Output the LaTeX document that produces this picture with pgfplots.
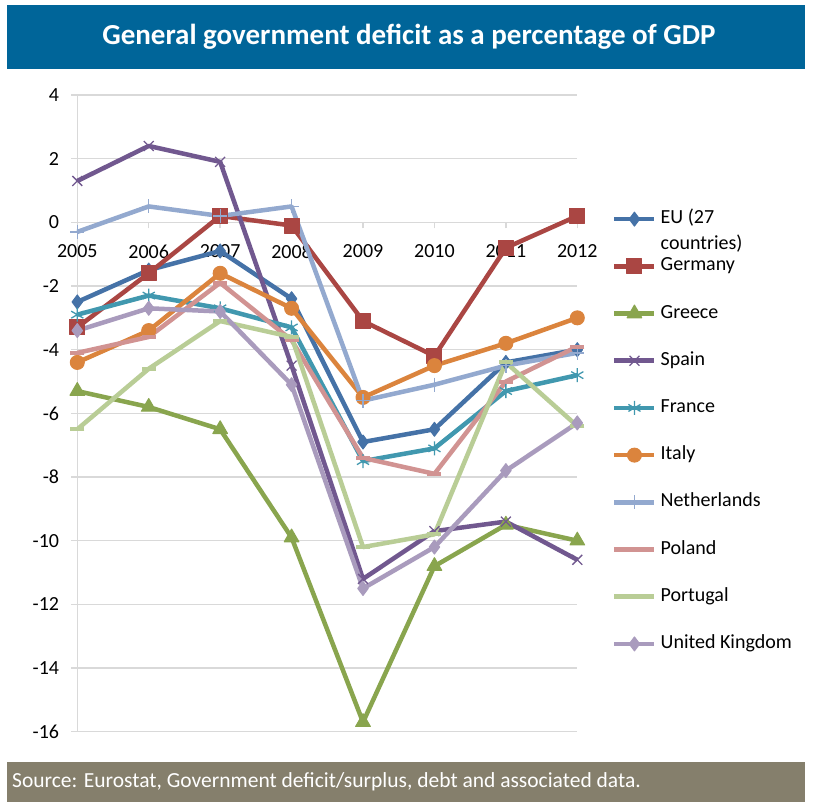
\documentclass[border=0pt]{standalone}
\usepackage{fontspec}
\setmainfont{Carlito}
\usepackage{pgfplots}
\pgfplotsset{compat=1.18}
\definecolor{cEU}{HTML}{4572A7}
\definecolor{cDE}{HTML}{AA4643}
\definecolor{cGR}{HTML}{89A54E}
\definecolor{cES}{HTML}{71588F}
\definecolor{cFR}{HTML}{4198AF}
\definecolor{cIT}{HTML}{DB843D}
\definecolor{cNL}{HTML}{93A9CF}
\definecolor{cPL}{HTML}{D19392}
\definecolor{cPT}{HTML}{B9CD96}
\definecolor{cUK}{HTML}{A99BBD}
\definecolor{titleblue}{RGB}{0,101,153}
\definecolor{footgray}{RGB}{133,127,108}
\definecolor{gridgray}{HTML}{D9D9D9}
\begin{document}
\begin{tikzpicture}
\useasboundingbox (0,0) rectangle (813pt,-808pt);
\fill[white] (0,0) rectangle (813pt,-808pt);
\fill[titleblue] (7pt,-5pt) rectangle (805pt,-69pt);
\node[text=white,font=\fontsize{29}{33}\selectfont\bfseries] at (409pt,-37pt) {General government deficit as a percentage of GDP};
\fill[footgray] (7pt,-762pt) rectangle (805pt,-802pt);
\node[text=white,anchor=west,inner sep=0pt,font=\fontsize{21.5}{25}\selectfont] at (12pt,-782pt) {Source: Eurostat, Government deficit/surplus, debt and associated data.};
\begin{axis}[
  at={(77.3pt,-731.7pt)}, anchor=south west,
  scale only axis, width=500pt, height=636.7pt,
  xmin=2005, xmax=2012, ymin=-16, ymax=4,
  axis x line=middle, axis y line=left,
  axis line style={-, draw=gridgray, line width=1.5pt},
  hide obscured x ticks=false, hide obscured y ticks=false,
  xtick={2005,2006,2007,2008,2009,2010,2011,2012},
  xticklabels={2005,2006,2007,2008,2009,2010,2011,2012},
  ytick={-16,-14,-12,-10,-8,-6,-4,-2,0,2,4},
  yticklabels={-16,-14,-12,-10,-8,-6,-4,-2,0,2,4},
  ymajorgrids, major grid style={draw=gridgray, line width=1.5pt},
  tick style={draw=gridgray, line width=1.5pt}, major tick length=6pt, tick align=outside,
  ticklabel style={font=\fontsize{20}{24}\selectfont, inner sep=0pt},
  xticklabel style={anchor=north, yshift=-16pt},
  yticklabel style={anchor=east, xshift=-12pt},
  clip=false,
  every axis plot/.append style={line width=4.5pt, line join=round},
  legend style={at={(1.0694,0.8203)}, anchor=north west, draw=none, fill=none, inner sep=0pt,
    row sep=28.2pt, column sep=4pt, font=\fontsize{20}{26}\selectfont,
    nodes={inner sep=0pt, text height=14pt, text depth=5pt}},
  legend cell align=left,
  legend image code/.code={\draw[mark repeat=2,mark phase=2] plot coordinates {(0pt,0pt) (20pt,0pt) (40pt,0pt)};},
]
\addplot[cEU, mark=diamond*, mark size=7pt, mark options={line width=1pt}] coordinates {(2005,-2.5)(2006,-1.5)(2007,-0.9)(2008,-2.4)(2009,-6.9)(2010,-6.5)(2011,-4.4)(2012,-4.0)};
\addlegendentry{\smash{\begin{tabular}[t]{@{}l@{}}EU (27\\countries)\end{tabular}}}
\addplot[cDE, mark=square*, mark size=7.5pt, mark options={line width=1pt}] coordinates {(2005,-3.3)(2006,-1.6)(2007,0.2)(2008,-0.1)(2009,-3.1)(2010,-4.2)(2011,-0.8)(2012,0.2)};
\addlegendentry{Germany}
\addplot[cGR, mark=triangle*, mark size=8.5pt, mark options={line width=1pt}] coordinates {(2005,-5.3)(2006,-5.8)(2007,-6.5)(2008,-9.9)(2009,-15.7)(2010,-10.8)(2011,-9.5)(2012,-10.0)};
\addlegendentry{Greece}
\addplot[cES, mark=x, mark size=7pt, mark options={line width=1.3pt}] coordinates {(2005,1.3)(2006,2.4)(2007,1.9)(2008,-4.5)(2009,-11.2)(2010,-9.7)(2011,-9.4)(2012,-10.6)};
\addlegendentry{Spain}
\addplot[cFR, mark=asterisk, mark size=7pt, mark options={line width=1.3pt}] coordinates {(2005,-2.9)(2006,-2.3)(2007,-2.7)(2008,-3.3)(2009,-7.5)(2010,-7.1)(2011,-5.3)(2012,-4.8)};
\addlegendentry{France}
\addplot[cIT, mark=*, mark size=7pt, mark options={line width=1pt}] coordinates {(2005,-4.4)(2006,-3.4)(2007,-1.6)(2008,-2.7)(2009,-5.5)(2010,-4.5)(2011,-3.8)(2012,-3.0)};
\addlegendentry{Italy}
\addplot[cNL, mark=+, mark size=7pt, mark options={line width=1.3pt}] coordinates {(2005,-0.3)(2006,0.5)(2007,0.2)(2008,0.5)(2009,-5.6)(2010,-5.1)(2011,-4.5)(2012,-4.1)};
\addlegendentry{Netherlands}
\addplot[cPL, mark=-, mark size=7pt, mark options={line width=4pt}] coordinates {(2005,-4.1)(2006,-3.6)(2007,-1.9)(2008,-3.7)(2009,-7.4)(2010,-7.9)(2011,-5.0)(2012,-3.9)};
\addlegendentry{Poland}
\addplot[cPT, mark=-, mark size=7pt, mark options={line width=4pt}] coordinates {(2005,-6.5)(2006,-4.6)(2007,-3.1)(2008,-3.6)(2009,-10.2)(2010,-9.8)(2011,-4.4)(2012,-6.4)};
\addlegendentry{Portugal}
\addplot[cUK, mark=diamond*, mark size=7pt, mark options={line width=1pt}] coordinates {(2005,-3.4)(2006,-2.7)(2007,-2.8)(2008,-5.1)(2009,-11.5)(2010,-10.2)(2011,-7.8)(2012,-6.3)};
\addlegendentry{United Kingdom}
\end{axis}
\end{tikzpicture}
\end{document}
